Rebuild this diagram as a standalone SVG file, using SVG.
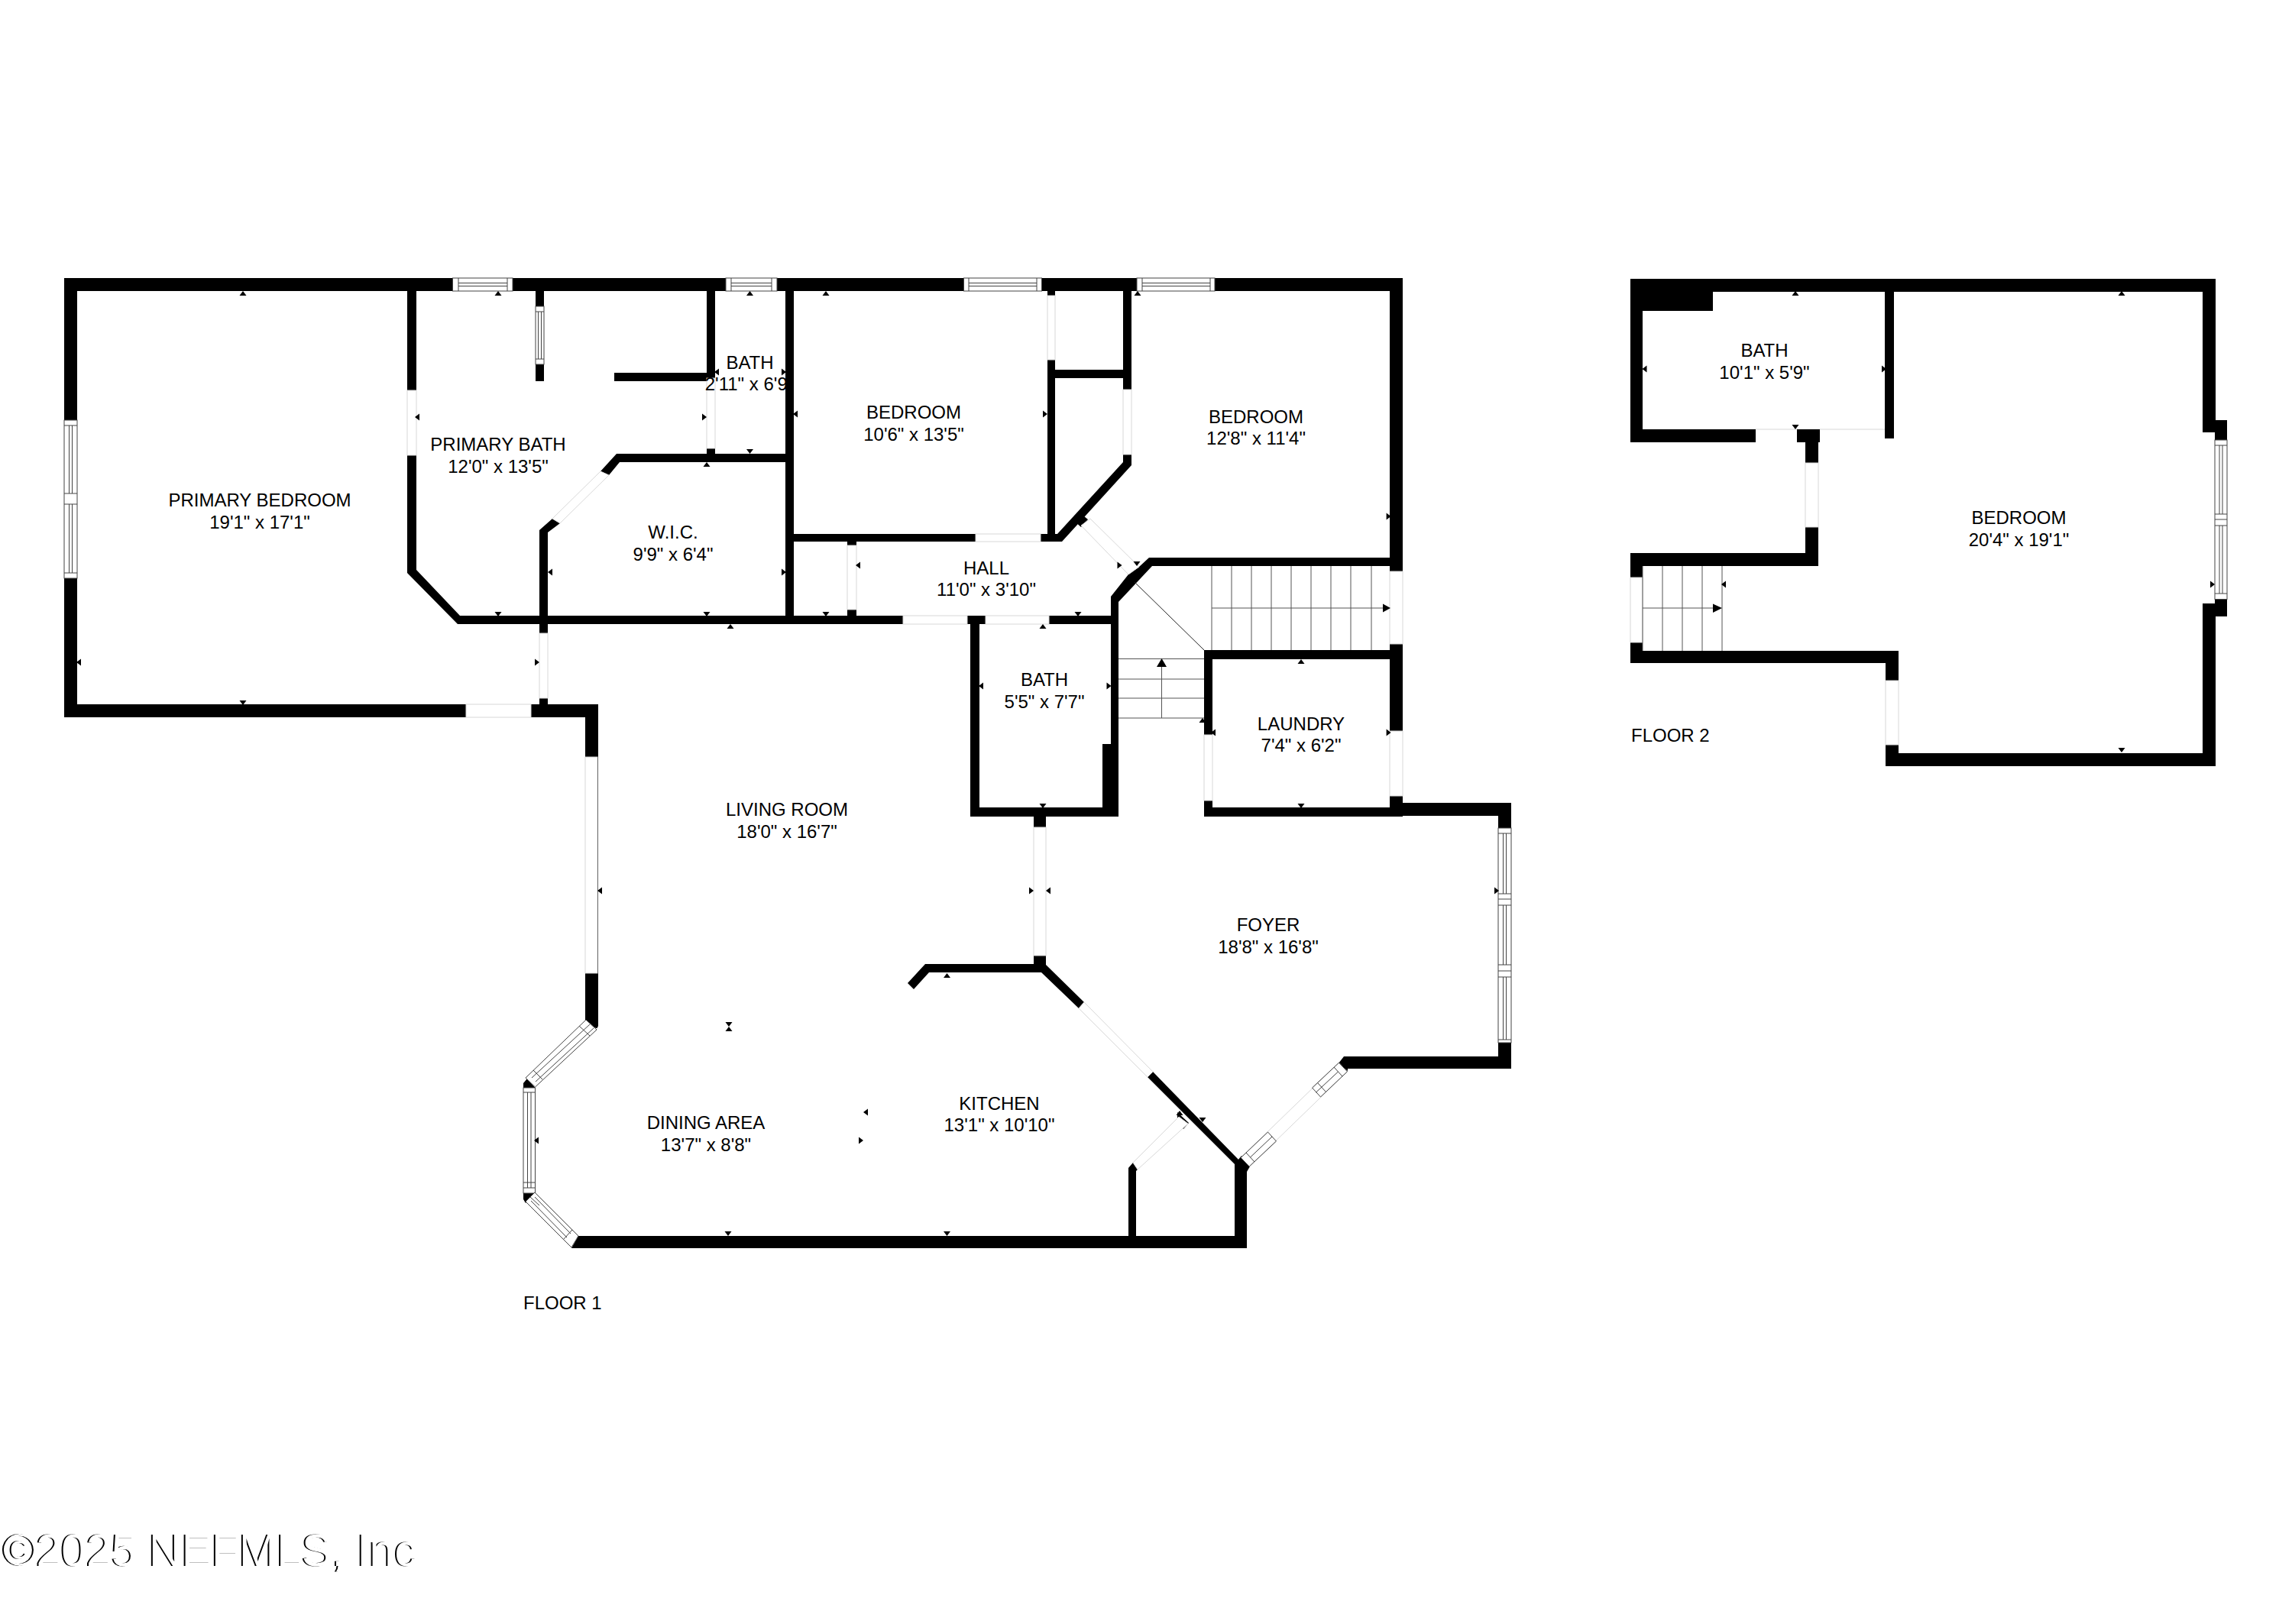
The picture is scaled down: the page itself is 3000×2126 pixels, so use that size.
<svg xmlns="http://www.w3.org/2000/svg" xmlns:xlink="http://www.w3.org/1999/xlink" width="3000" height="2126" viewBox="0 0 3000 2126">
<style>
.w{fill:#000}
.d{fill:#fff;stroke:#d8d8d8;stroke-width:1}
.g{fill:#fff;stroke:#444;stroke-width:1}
.m{fill:none;stroke:#444;stroke-width:1}
.s{stroke:#555;stroke-width:1;fill:none}
text{font-family:"Liberation Sans",Arial,sans-serif;font-size:24px;fill:#000}
.c{text-anchor:middle}
</style>
<defs>
<path id="tu" d="M-4.5 3L4.5 3L0 -3Z"/>
<path id="td" d="M-4.5 -3L4.5 -3L0 3Z"/>
<path id="tl" d="M3 -4.5L3 4.5L-3 0Z"/>
<path id="tr" d="M-3 -4.5L-3 4.5L3 0Z"/>
<filter id="sliver" x="-2%" y="-10%" width="104%" height="120%">
<feOffset in="SourceAlpha" dx="1.5" dy="0.1" result="o"/>
<feComposite in="SourceGraphic" in2="o" operator="out"/>
</filter>
</defs>
<rect width="3000" height="2126" fill="#fff"/>

<g id="floor-1-walls" class="w">
<rect x="84" y="364" width="1752" height="17"/>
<rect x="84" y="364" width="17" height="575"/>
<rect x="84" y="922" width="699" height="17"/>
<rect x="766" y="922" width="17" height="422"/>
<rect x="533" y="381" width="12" height="369"/>
<polygon points="533,750 545,746 602,806 1454,806 1454,817 599,817"/>
<rect x="701" y="381" width="11" height="118"/>
<rect x="804" y="488" width="123" height="11"/>
<rect x="925" y="381" width="11" height="214"/>
<rect x="1028" y="381" width="11" height="436"/>
<polygon points="807,594 1039,594 1039,605 811,605 797,622 786,617"/>
<polygon points="723,679 733,685 717,697 717,924 706,924 706,694"/>
<rect x="1039" y="699" width="323" height="10"/>
<rect x="1109" y="709" width="12" height="108"/>
<rect x="1371" y="381" width="10" height="320"/>
<rect x="1470" y="381" width="11" height="226"/>
<rect x="1381" y="484" width="89" height="11"/>
<polygon points="1470,595 1481,595 1481,609 1390,709 1362,709 1362,699 1384,699 1470,605"/>
<polygon points="1407,683 1413,671 1424,680 1415,690"/>
<polygon points="1504,730 1836,730 1836,741 1508,741 1464,788 1464,1069 1443,1069 1443,974 1454,974 1454,781 1477,752 1491,742"/>
<rect x="1819" y="364" width="17" height="705"/>
<rect x="1270" y="817" width="12" height="252"/>
<rect x="1266" y="806" width="24" height="11"/>
<rect x="1270" y="1057" width="194" height="12"/>
<rect x="1576" y="851" width="260" height="12"/>
<rect x="1576" y="851" width="11" height="218"/>
<rect x="1576" y="1057" width="260" height="12"/>
<rect x="1819" y="1051" width="159" height="17"/>
<rect x="1961" y="1051" width="17" height="348"/>
<polygon points="1759,1383 1978,1383 1978,1399 1764,1399 1764,1402 1752,1392"/>
<rect x="1353" y="1069" width="16" height="204"/>
<polygon points="1211,1262 1353,1262 1369,1263 1419,1312 1412,1320 1363,1273 1216,1273 1196,1295 1188,1287"/>
<polygon points="1509,1403 1621,1518 1632,1530 1632,1634 748,1634 757,1618 1616,1618 1616,1524 1502,1410"/>
<polygon points="1477,1529 1483,1522 1489,1531 1487,1533 1487,1618 1477,1618"/>
<polygon points="1541,1456 1556,1470 1549,1478 1541,1470"/>
<polygon points="1616,1524 1625,1513 1636,1527 1632,1534"/>
<polygon points="766,1344 782,1330 782,1346 766,1344"/>
<polygon points="685,1418 690,1412 700.5,1424 685,1424"/>
<polygon points="685,1562 700,1562 688,1575 685,1570"/>
</g>

<g id="floor-1-openings">
<rect class="d" x="533" y="511" width="12" height="85"/>
<rect class="d" x="610" y="922" width="85" height="17"/>
<rect class="d" x="706" y="829" width="11" height="85"/>
<rect class="d" x="925" y="495" width="11" height="92"/>
<rect class="d" x="766" y="991" width="16" height="283"/>
<rect class="d" x="1109" y="714" width="12" height="84"/>
<rect class="d" x="1182" y="806" width="84" height="11"/>
<rect class="d" x="1290" y="806" width="83" height="11"/>
<rect class="d" x="1277" y="699" width="85" height="10"/>
<rect class="d" x="1371" y="387" width="10" height="84"/>
<rect class="d" x="1470" y="510" width="11" height="85"/>
<rect class="d" x="1819" y="748" width="17" height="95"/>
<rect class="d" x="1819" y="957" width="17" height="85"/>
<rect class="d" x="1576" y="962" width="11" height="86"/>
<rect class="d" x="1353" y="1083" width="16" height="168"/>
<polygon class="d" points="797,622 733,685 723,679 786,617"/>
<polygon class="d" points="1427,679 1491,742 1477,752 1415,688"/>
<polygon class="d" points="1419,1312 1509,1403 1502,1410 1412,1320"/>
<polygon class="d" points="1483,1522 1489,1531 1555,1471 1543,1462"/>
</g>

<g id="floor-1-windows">
<rect class="g" x="592.5" y="364" width="78.5" height="17"/><path class="m" d="M600 364V381M664 364V381M600 370.5H664M600 374.5H664"/>
<rect class="g" x="950" y="364" width="67" height="17"/><path class="m" d="M957 364V381M1010 364V381M957 370.5H1010M957 374.5H1010"/>
<rect class="g" x="1261.5" y="364" width="102" height="17"/><path class="m" d="M1268 364V381M1357 364V381M1268 370.5H1357M1268 374.5H1357"/>
<rect class="g" x="1488" y="364" width="102" height="17"/><path class="m" d="M1495 364V381M1584 364V381M1495 370.5H1584M1495 374.5H1584"/>
<rect class="g" x="84" y="550" width="17" height="207"/><path class="m" d="M84 557H101M84 646H101M84 660H101M84 750H101M90.5 557V646M94.5 557V646M90.5 660V750M94.5 660V750"/>
<rect class="g" x="701" y="401" width="11" height="76"/><path class="m" d="M701 408H712M701 470H712M704.5 408V470M708.5 408V470"/>
<rect class="g" x="1961" y="1084" width="17" height="281"/><path class="m" d="M1961 1091H1978M1961 1170H1978M1961 1177H1978M1961 1185H1978M1961 1263H1978M1961 1271H1978M1961 1279H1978M1961 1361H1978M1967.5 1091V1170M1971.5 1091V1170M1967.5 1185V1263M1971.5 1185V1263M1967.5 1279V1361M1971.5 1279V1361"/>
<rect class="g" x="685" y="1424" width="15.5" height="138"/><path class="m" d="M685 1430H700.5M685 1555H700.5M685 1548H700.5M690.5 1430V1555M695 1430V1555"/>
<polygon class="g" points="767,1335 781,1348 700.5,1423 688,1411"/><path class="m" d="M758,1343L772,1356M698,1401L710,1413M772,1341L696,1411M777,1346L701,1416"/>
<polygon class="g" points="688,1573 700,1561 757,1618 748,1633"/><path class="m" d="M694 1567L706 1578M737 1623L749 1610M695 1572L742 1620M700 1567L747 1615"/>
<polygon class="d" points="1752.5,1391.2 1763.5,1402.8 1635.5,1526.8 1624.5,1515.2"/>
<path class="m" d="M1752.5,1391.2L1763.5,1402.8M1717.5,1424L1728.5,1436M1725,1418L1736,1430M1746,1397L1757,1409M1751.5,1403L1722.5,1430M1752.5,1391.2L1717.5,1424M1763.5,1402.8L1728.5,1436"/>
<path class="m" d="M1659.5,1482L1670.5,1494M1631,1509L1642,1521M1636.5,1515L1665,1488M1624.5,1515.2L1659.5,1482M1635.5,1526.8L1670.5,1494"/>
</g>

<g id="floor-1-stairs">
<path class="s" d="M1586 741V851M1612 741V851M1638 741V851M1664 741V851M1690 741V851M1716 741V851M1742 741V851M1768 741V851M1795 741V851M1586 796H1810"/>
<path class="w" d="M1810 790.5L1820 796L1810 801.5Z"/>
<path class="s" d="M1464 862.5H1576M1464 889H1576M1464 914H1576M1464 940H1576M1520.5 873V940"/>
<path class="w" d="M1514 873L1520.5 862L1527 873Z"/>
<path d="M1485 762L1576 851" fill="none" stroke="#222" stroke-width="1"/>
</g>

<g id="floor-1-ticks" fill="#000">
<use href="#tu" x="318" y="384"/><use href="#tu" x="652" y="384"/><use href="#tu" x="981.5" y="384"/><use href="#tu" x="925" y="608"/><use href="#tu" x="956" y="820"/>
<use href="#td" x="652" y="804"/><use href="#td" x="925" y="804"/><use href="#td" x="318" y="920"/><use href="#td" x="981.5" y="591"/>
<use href="#tl" x="103" y="867"/><use href="#tl" x="546" y="546"/><use href="#tl" x="938" y="487"/><use href="#tl" x="720" y="749"/><use href="#tl" x="1041" y="542"/>
<use href="#tr" x="703" y="867"/><use href="#tr" x="922" y="546"/><use href="#tr" x="1026" y="487"/><use href="#tr" x="1026" y="749"/>
<use href="#tu" x="1081" y="384"/><use href="#tu" x="1489" y="384"/><use href="#tu" x="1365" y="820"/><use href="#tu" x="1703" y="866"/><use href="#tu" x="1574" y="943"/>
<use href="#td" x="1081" y="804"/><use href="#td" x="1411" y="804"/><use href="#td" x="1365" y="1055"/><use href="#td" x="1703" y="1055"/><use href="#td" x="1488" y="738"/>
<use href="#tl" x="1123" y="740"/><use href="#tl" x="1284" y="898"/><use href="#tl" x="1588" y="959"/>
<use href="#tr" x="1368" y="542"/><use href="#tr" x="1465.5" y="740"/><use href="#tr" x="1451.5" y="898"/><use href="#tr" x="1817.6" y="676"/><use href="#tr" x="1817.6" y="959"/>
<use href="#tl" x="785" y="1166"/><use href="#tl" x="1372" y="1166"/><use href="#tl" x="1133" y="1456"/><use href="#tl" x="702" y="1493"/>
<use href="#tr" x="1350" y="1166"/><use href="#tr" x="1127" y="1493"/><use href="#tr" x="1959" y="1166"/>
<use href="#tu" x="1239.5" y="1277"/><use href="#td" x="954" y="1341"/><use href="#tu" x="954" y="1347"/>
<use href="#td" x="953" y="1615"/><use href="#td" x="1239.5" y="1615"/><use href="#td" x="1574" y="1466"/><use href="#tu" x="1544" y="1457"/>
</g>

<g id="floor-2-walls" class="w">
<rect x="2134" y="365" width="766" height="17"/>
<rect x="2134" y="365" width="108" height="42"/>
<rect x="2134" y="365" width="16" height="214"/>
<rect x="2134" y="562" width="164" height="17"/>
<rect x="2352" y="562" width="30" height="17"/>
<rect x="2467" y="382" width="12" height="192"/>
<rect x="2363" y="574" width="17" height="167"/>
<rect x="2134" y="724" width="246" height="17"/>
<rect x="2134" y="724" width="16" height="144"/>
<rect x="2134" y="852" width="351" height="16"/>
<rect x="2468" y="852" width="17" height="151"/>
<rect x="2468" y="986" width="432" height="17"/>
<rect x="2883" y="365" width="17" height="201"/>
<rect x="2883" y="550" width="32" height="16"/>
<rect x="2899" y="550" width="16" height="26"/>
<rect x="2899" y="784" width="16" height="23"/>
<rect x="2883" y="790" width="32" height="17"/>
<rect x="2883" y="790" width="17" height="213"/>
</g>
<g id="floor-2-openings">
<path d="M2298 562H2352M2382 562H2467" stroke="#d8d8d8" stroke-width="1" fill="none"/>
<rect class="d" x="2363" y="606" width="17" height="84"/>
<rect class="d" x="2134" y="756" width="16" height="85"/>
<rect class="d" x="2468" y="891" width="17" height="84"/>
<rect class="g" x="2899" y="576" width="16" height="208.5"/><path class="m" d="M2899 583H2915M2899 673H2915M2899 680H2915M2899 688H2915M2899 777H2915M2905 583V673M2909 583V673M2905 688V777M2909 688V777"/>
</g>
<g id="floor-2-stairs">
<path class="s" d="M2176 741V852M2202 741V852M2228 741V852M2254 741V852M2150 741V852M2150 796H2242"/>
<path class="w" d="M2242 790.5L2254 796L2242 802Z"/>
</g>
<g id="floor-2-ticks" fill="#000">
<use href="#tu" x="2350" y="384"/><use href="#tu" x="2777" y="384"/><use href="#td" x="2350" y="559"/><use href="#td" x="2777" y="982"/>
<use href="#tl" x="2152.5" y="483"/><use href="#tl" x="2256" y="765"/><use href="#tr" x="2466" y="483"/><use href="#tr" x="2896" y="765"/>
</g>

<g id="room-primary-bedroom"><text class="c" x="340" y="663">PRIMARY BEDROOM</text><text class="c" x="340" y="692">19'1" x 17'1"</text></g>
<g id="room-primary-bath"><text class="c" x="652" y="590">PRIMARY BATH</text><text class="c" x="652" y="619">12'0" x 13'5"</text></g>
<g id="room-bath-a"><text class="c" x="981.5" y="483">BATH</text><text class="c" x="981" y="511">2'11" x 6'9"</text></g>
<g id="room-wic"><text class="c" x="881" y="705">W.I.C.</text><text class="c" x="881" y="734">9'9" x 6'4"</text></g>
<g id="room-bedroom-a"><text class="c" x="1196" y="548">BEDROOM</text><text class="c" x="1196" y="576.5">10'6" x 13'5"</text></g>
<g id="room-bedroom-b"><text class="c" x="1644" y="554">BEDROOM</text><text class="c" x="1644" y="582">12'8" x 11'4"</text></g>
<g id="room-hall"><text class="c" x="1291" y="752">HALL</text><text class="c" x="1291" y="780">11'0" x 3'10"</text></g>
<g id="room-bath-b"><text class="c" x="1367" y="898">BATH</text><text class="c" x="1367" y="926.5">5'5" x 7'7"</text></g>
<g id="room-laundry"><text class="c" x="1703" y="955.5">LAUNDRY</text><text class="c" x="1703" y="984">7'4" x 6'2"</text></g>
<g id="room-living"><text class="c" x="1030" y="1068">LIVING ROOM</text><text class="c" x="1030" y="1097">18'0" x 16'7"</text></g>
<g id="room-dining"><text class="c" x="924" y="1478">DINING AREA</text><text class="c" x="924" y="1507">13'7" x 8'8"</text></g>
<g id="room-kitchen"><text class="c" x="1308" y="1452.5">KITCHEN</text><text class="c" x="1308" y="1481">13'1" x 10'10"</text></g>
<g id="room-foyer"><text class="c" x="1660" y="1219">FOYER</text><text class="c" x="1660" y="1248">18'8" x 16'8"</text></g>
<g id="room-bath-c"><text class="c" x="2309.5" y="467">BATH</text><text class="c" x="2309.5" y="496">10'1" x 5'9"</text></g>
<g id="room-bedroom-c"><text class="c" x="2642.5" y="686">BEDROOM</text><text class="c" x="2642.5" y="714.5">20'4" x 19'1"</text></g>
<text id="floor-1-label" x="685" y="1714">FLOOR 1</text>
<text id="floor-2-label" x="2135" y="971">FLOOR 2</text>
<text id="watermark" x="2" y="2050" style="font-size:59px" filter="url(#sliver)">©2025 NEFMLS, Inc</text>
</svg>
